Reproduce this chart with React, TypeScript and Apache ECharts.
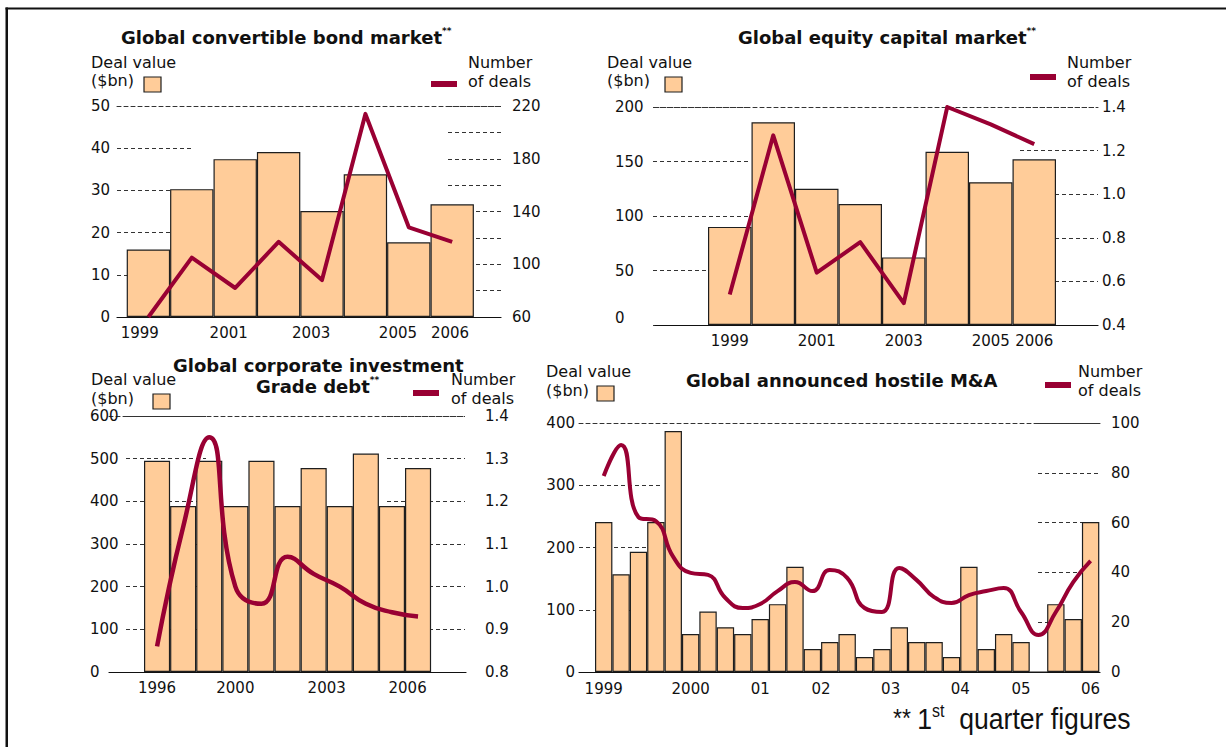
import React, { useEffect, useRef } from 'react';
import * as echarts from 'echarts';

// ---------------- data ----------------
// Global convertible bond market
const convYears = ['1999', '2000', '2001', '2002', '2003', '2004', '2005', '2006'];
const convDealValue = [16.0, 30.3, 37.4, 39.1, 25.1, 33.8, 17.7, 26.7];
const convNumDeals = [60, 105, 82, 117, 88, 214, 128, 117];
const convTickText = ['1999', '2001', '2003', '2005', '2006'];
const convTickPos = [-0.2, 1.85, 3.75, 5.75, 6.95];

// Global equity capital market
const ecmYears = ['1999', '2000', '2001', '2002', '2003', '2004', '2005', '2006'];
const ecmDealValue = [90, 186, 125, 111, 62, 159, 131, 152];
const ecmNumDeals = [0.54, 1.27, 0.64, 0.78, 0.5, 1.4, 1.32, 1.23];
const ecmTickText = ['1999', '2001', '2003', '2005', '2006'];
const ecmTickPos = [0, 2, 4, 6, 7];

// Global corporate investment grade debt
const igYears = ['1996', '1997', '1998', '1999', '2000', '2001', '2002', '2003', '2004', '2005', '2006'];
const igDealValue = [495, 389, 495, 389, 495, 389, 478, 389, 512, 389, 478];
const igNumDeals = [0.86, 1.14, 1.35, 1.0, 0.96, 1.07, 1.03, 1.0, 0.96, 0.94, 0.93];
const igTickText = ['1996', '2000', '2003', '2006'];
const igTickPos = [0, 3, 6.5, 9.6];

// Global announced hostile M&A (quarterly)
const maQuarters = [
  '1999 Q1', '1999 Q2', '1999 Q3', '1999 Q4',
  '2000 Q1', '2000 Q2', '2000 Q3', '2000 Q4',
  '2001 Q1', '2001 Q2', '2001 Q3', '2001 Q4',
  '2002 Q1', '2002 Q2', '2002 Q3', '2002 Q4',
  '2003 Q1', '2003 Q2', '2003 Q3', '2003 Q4',
  '2004 Q1', '2004 Q2', '2004 Q3', '2004 Q4',
  '2005 Q1', '2005 Q2', '2005 Q3', '2005 Q4',
  '2006 Q1',
];
const maDealValue = [241, 157, 193, 241, 387, 61, 97, 72, 61, 85, 109, 169, 37, 48, 61, 24, 37, 72, 48, 48, 24, 169, 37, 61, 48, 0, 109, 85, 241];
const maNumDeals = [78.7, 91.2, 62.2, 60.6, 46.2, 39.8, 39.0, 29.7, 25.7, 27.3, 32.5, 36.1, 32.5, 41.0, 37.8, 25.7, 24.1, 41.8, 36.9, 30.1, 27.7, 30.9, 32.5, 33.7, 24.1, 14.9, 24.1, 36.1, 44.6];
const maTickText = ['1999', '2000', '01', '02', '03', '04', '05', '06'];
const maTickPos = [0, 5, 9, 12.5, 16.5, 20.5, 24, 28];

// ---------------- styles / layout ----------------
const FONT = 'DejaVu Sans';
const INK = '#111111';
const GRIDC = '#333333';
const DASH: number[] = [4, 3];
const BAR = '#FFCC99';
const EDGE = '#1e1e1e';
const LINE = '#990033';

type AxisL = {
  min: number; max: number; interval: number; margin: number; step?: number; decimals?: number;
  align?: 'left' | 'right'; minLift?: number;
  gridFrom: number; gridLen: number; // partial dashed gridline segment (pixels)
};
type Layout = {
  left: number; top: number; width: number; height: number;
  firstBarLeft: number; barW: number; xMargin: number;
  yL: AxisL; yR: AxisL; lineWidth: number; smooth: boolean | number;
};

const L1: Layout = {
  left: 117, top: 106, width: 384, height: 211, firstBarLeft: 126.7, barW: 43.4, xMargin: 8,
  yL: { min: 0, max: 50, interval: 10, margin: 7, gridFrom: 117, gridLen: 77 },
  yR: { min: 60, max: 220, interval: 20, step: 40, margin: 11, gridFrom: 448, gridLen: 53 },
  lineWidth: 4, smooth: false,
};
const L2: Layout = {
  left: 655, top: 107, width: 443, height: 218, firstBarLeft: 708, barW: 43.5, xMargin: 8,
  yL: { min: 0, max: 200, interval: 50, margin: 40, align: 'left', minLift: 7, gridFrom: 653, gridLen: 97 },
  yR: { min: 0.4, max: 1.4, interval: 0.2, margin: 4, decimals: 1, gridFrom: 1020, gridLen: 78 },
  lineWidth: 4, smooth: false,
};
const L3: Layout = {
  left: 109, top: 416, width: 357, height: 256, firstBarLeft: 144, barW: 26.1, xMargin: 8,
  yL: { min: 0, max: 600, interval: 100, margin: 19, align: 'left', gridFrom: 126, gridLen: 80 },
  yR: { min: 0.8, max: 1.4, interval: 0.1, margin: 19, decimals: 1, gridFrom: 387, gridLen: 78 },
  lineWidth: 4.5, smooth: 0.5,
};
const L4: Layout = {
  left: 579, top: 423, width: 521, height: 249, firstBarLeft: 595, barW: 17.39, xMargin: 9,
  yL: { min: 0, max: 400, interval: 100, margin: 4, gridFrom: 579, gridLen: 84 },
  yR: { min: 0, max: 100, interval: 20, margin: 11, gridFrom: 1038, gridLen: 62 },
  lineWidth: 4, smooth: 0.5,
};

function labelAxis(gi: number, a: AxisL, position: 'left' | 'right') {
  const step = a.step ?? a.interval;
  const label: any = {
    margin: a.margin, color: INK, fontFamily: FONT, fontSize: 15,
    formatter: (v: number) => {
      const k = (v - a.min) / step;
      if (Math.abs(k - Math.round(k)) > 1e-6) return '';
      const s = a.decimals ? v.toFixed(a.decimals) : String(Math.round(v));
      if (a.minLift && Math.abs(v - a.min) < 1e-9) return `{z|${s}}`;
      return s;
    },
  };
  if (a.align) label.align = a.align;
  if (a.minLift) {
    label.rich = { z: { fontFamily: FONT, fontSize: 15, color: INK, padding: [0, 0, a.minLift * 2, 0] } };
  }
  return {
    type: 'value', gridIndex: gi, position, min: a.min, max: a.max, interval: a.interval,
    axisLine: { show: false },
    splitLine: { show: false },
    axisTick: { show: false },
    axisLabel: label,
  };
}

function dashAxis(gi: number, a: AxisL) {
  return {
    type: 'value', gridIndex: gi, min: a.min, max: a.max, interval: a.interval,
    axisLine: { show: false }, axisTick: { show: false }, axisLabel: { show: false },
    splitLine: { show: true, lineStyle: { color: GRIDC, width: 1, type: DASH } },
  };
}

const hiddenX = (gi: number) => ({ type: 'value', gridIndex: gi, min: 0, max: 1, show: false });

function buildPanel(i: number, L: Layout, cats: string[], bars: number[], nums: number[], tickPos: number[], tickText: string[]) {
  const g = 3 * i;
  const a = 4 * i;
  const c0 = L.firstBarLeft + L.barW / 2;
  const xMin = -(c0 - L.left) / L.barW;
  const xMax = (L.left + L.width - c0) / L.barW;
  const grids = [
    { left: L.left, top: L.top, width: L.width, height: L.height, containLabel: false },
    { left: L.yL.gridFrom, top: L.top, width: L.yL.gridLen, height: L.height, containLabel: false },
    { left: L.yR.gridFrom, top: L.top, width: L.yR.gridLen, height: L.height, containLabel: false },
  ];
  const xBottom = {
    type: 'value', gridIndex: g, position: 'bottom', min: xMin, max: xMax,
    axisLine: { show: true, onZero: false, lineStyle: { color: INK, width: 1.2 } },
    axisTick: { show: false }, splitLine: { show: false },
    axisLabel: {
      show: true, customValues: tickPos, margin: L.xMargin, color: INK, fontFamily: FONT, fontSize: 15,
      formatter: (v: number) => {
        const k = tickPos.findIndex((p) => Math.abs(p - v) < 1e-6);
        return k >= 0 ? tickText[k] : '';
      },
    },
  };
  const xTop = {
    type: 'value', gridIndex: g, position: 'top', min: 0, max: 1,
    axisLine: { show: true, onZero: false, lineStyle: { color: GRIDC, width: 1, type: DASH } },
    axisTick: { show: false }, axisLabel: { show: false }, splitLine: { show: false },
  };
  const xAxis = [xBottom, xTop, hiddenX(g + 1), hiddenX(g + 2)];
  const yAxis = [labelAxis(g, L.yL, 'left'), labelAxis(g, L.yR, 'right'), dashAxis(g + 1, L.yL), dashAxis(g + 2, L.yR)];
  const series = [
    {
      type: 'bar', name: cats.join(','), xAxisIndex: a, yAxisIndex: a,
      data: bars.map((v, k) => [k, v]), barWidth: L.barW,
      itemStyle: { color: BAR, borderColor: EDGE, borderWidth: 1.2 }, z: 2, silent: true,
    },
    {
      type: 'line', xAxisIndex: a, yAxisIndex: a + 1,
      data: nums.map((v, k) => [k, v]), symbol: 'none', showSymbol: false, smooth: L.smooth,
      lineStyle: { color: LINE, width: L.lineWidth, cap: 'butt', join: 'round' }, z: 3, silent: true,
    },
  ];
  return { grids, xAxis, yAxis, series };
}

const txt = (x: number, y: number, text: string, size = 16) => ({
  type: 'text', x, y, silent: true,
  style: { text, fill: INK, fontFamily: FONT, fontSize: size, textAlign: 'left', textVerticalAlign: 'middle' },
});

const titleText = (x: number, y: number, text: string, stars = true) => ({
  type: 'text', x, y, silent: true,
  style: {
    text: stars ? `{t|${text}}{s|**}` : `{t|${text}}`,
    textAlign: 'left', textVerticalAlign: 'middle',
    rich: {
      t: { fontFamily: FONT, fontSize: 18, fontWeight: 'bold', fill: INK, lineHeight: 22 },
      s: { fontFamily: FONT, fontSize: 9, fontWeight: 'bold', fill: INK, verticalAlign: 'top', lineHeight: 22 },
    },
  },
});

const barKey = (x: number, y: number) => ({
  type: 'rect', silent: true, shape: { x, y, width: 17, height: 15 },
  style: { fill: BAR, stroke: EDGE, lineWidth: 1.2 },
});
const lineKey = (x: number, y: number) => ({
  type: 'rect', silent: true, shape: { x, y, width: 26, height: 6 }, style: { fill: LINE },
});

function buildOption() {
  const panels = [
    buildPanel(0, L1, convYears, convDealValue, convNumDeals, convTickPos, convTickText),
    buildPanel(1, L2, ecmYears, ecmDealValue, ecmNumDeals, ecmTickPos, ecmTickText),
    buildPanel(2, L3, igYears, igDealValue, igNumDeals, igTickPos, igTickText),
    buildPanel(3, L4, maQuarters, maDealValue, maNumDeals, maTickPos, maTickText),
  ];
  const graphic = [
    // frame
    { type: 'rect', silent: true, shape: { x: 5.5, y: 7.5, width: 1221, height: 2 }, style: { fill: INK } },
    { type: 'rect', silent: true, shape: { x: 5.5, y: 7.5, width: 2.5, height: 740 }, style: { fill: INK } },
    // panel 1
    titleText(121, 37, 'Global convertible bond market'),
    txt(91, 62, 'Deal value'), txt(91, 80, '($bn)'), barKey(144, 77),
    lineKey(431, 81), txt(468, 62, 'Number'), txt(468, 81, 'of deals'),
    // panel 2
    titleText(738, 37, 'Global equity capital market'),
    txt(607, 62, 'Deal value'), txt(607, 80, '($bn)'), barKey(665, 77),
    lineKey(1030, 74), txt(1067, 62, 'Number'), txt(1067, 81, 'of deals'),
    // panel 3
    titleText(173, 365, 'Global corporate investment', false),
    titleText(256, 386, 'Grade debt'),
    txt(91, 379, 'Deal value'), txt(91, 398, '($bn)'), barKey(153, 394),
    lineKey(413, 390), txt(451, 379, 'Number'), txt(451, 398, 'of deals'),
    // panel 4
    titleText(686, 380, 'Global announced hostile M&A', false),
    txt(546, 371, 'Deal value'), txt(546, 390, '($bn)'), barKey(597, 386),
    lineKey(1045, 382), txt(1078, 371, 'Number'), txt(1078, 390, 'of deals'),
    // footnote
    {
      type: 'text', x: 893, y: 718, scaleX: 0.886, silent: true,
      style: {
        text: '{a|** }{n|1}{s|st}{n|  quarter figures}',
        textAlign: 'left', textVerticalAlign: 'middle',
        rich: {
          a: { fontFamily: 'Liberation Sans', fontSize: 26, fill: INK, lineHeight: 32 },
          n: { fontFamily: 'Liberation Sans', fontSize: 30, fill: INK, lineHeight: 32 },
          s: { fontFamily: 'Liberation Sans', fontSize: 18, fill: INK, verticalAlign: 'top', lineHeight: 32 },
        },
      },
    },
  ];
  return {
    animation: false,
    backgroundColor: '#ffffff',
    textStyle: { fontFamily: FONT },
    grid: panels.flatMap((p) => p.grids),
    xAxis: panels.flatMap((p) => p.xAxis),
    yAxis: panels.flatMap((p) => p.yAxis),
    series: panels.flatMap((p) => p.series),
    graphic,
  };
}

export default function App() {
  const ref = useRef<HTMLDivElement>(null);
  useEffect(() => {
    if (!ref.current) return;
    const chart = echarts.init(ref.current, null, { renderer: 'svg' });
    chart.setOption(buildOption() as any);
    return () => chart.dispose();
  }, []);
  return (
    <div
      ref={ref}
      style={{ position: 'absolute', left: 0, top: 0, width: 1226, height: 747, background: '#fff' }}
    />
  );
}
